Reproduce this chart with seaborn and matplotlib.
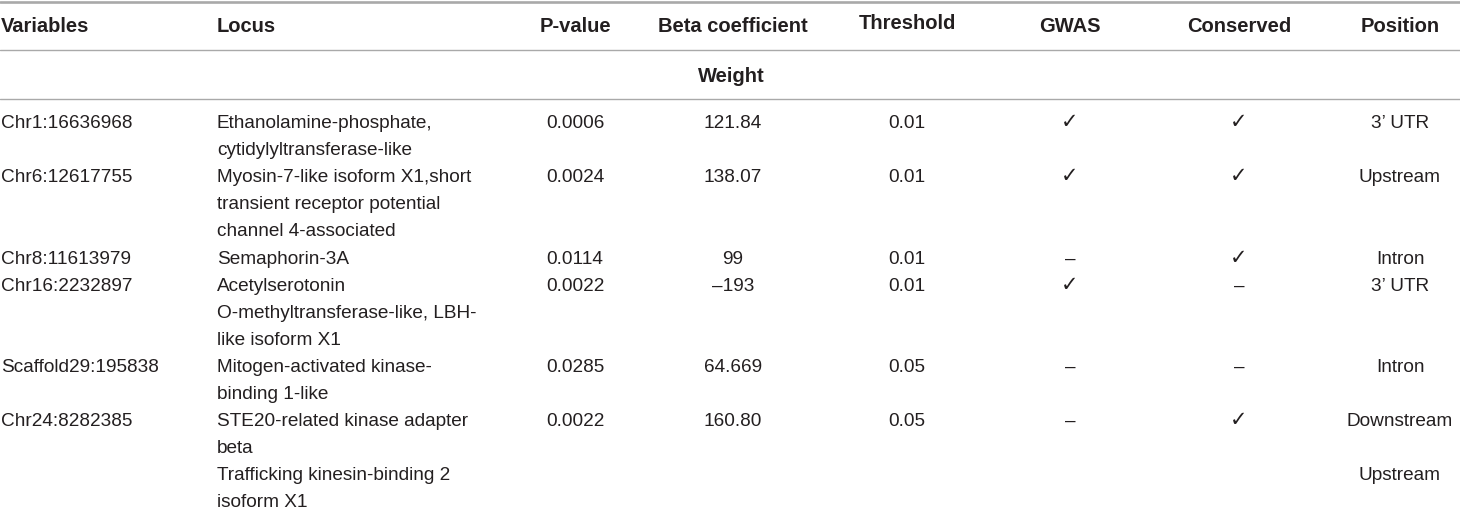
import matplotlib

matplotlib.use("Agg")
import matplotlib.pyplot as plt
import pandas as pd
import seaborn as sns

# Table content
headers = ["Variables", "Locus", "P-value", "Beta coefficient", "Threshold",
           "GWAS", "Conserved", "Position"]
group_label = "Weight"

variables = ["Chr1:16636968", "Chr6:12617755", "Chr8:11613979", "Chr16:2232897",
             "Scaffold29:195838", "Chr24:8282385", ""]
locus = [
    ["Ethanolamine-phosphate,", "cytidylyltransferase-like"],
    ["Myosin-7-like isoform X1,short", "transient receptor potential",
     "channel 4-associated"],
    ["Semaphorin-3A"],
    ["Acetylserotonin", "O-methyltransferase-like, LBH-", "like isoform X1"],
    ["Mitogen-activated kinase-", "binding 1-like"],
    ["STE20-related kinase adapter", "beta"],
    ["Trafficking kinesin-binding 2", "isoform X1"],
]
p_values = ["0.0006", "0.0024", "0.0114", "0.0022", "0.0285", "0.0022", ""]
beta_coef = ["121.84", "138.07", "99", "\u2013193", "64.669", "160.80", ""]
thresholds = ["0.01", "0.01", "0.01", "0.01", "0.05", "0.05", ""]
gwas = ["\u2713", "\u2713", "\u2013", "\u2713", "\u2013", "\u2013", ""]
conserved = ["\u2713", "\u2713", "\u2713", "\u2013", "\u2013", "\u2713", ""]
position = ["3\u2019 UTR", "Upstream", "Intron", "3\u2019 UTR", "Intron",
            "Downstream", "Upstream"]

df = pd.DataFrame({
    "Variables": variables, "Locus": locus, "P-value": p_values,
    "Beta coefficient": beta_coef, "Threshold": thresholds,
    "GWAS": gwas, "Conserved": conserved, "Position": position,
})

# layout (pixel coordinates of a 1460x512 canvas)
col_x = {"Variables": 1, "Locus": 217, "P-value": 575, "Beta coefficient": 733,
         "Threshold": 907, "GWAS": 1070, "Conserved": 1239, "Position": 1400}
col_ha = {"Variables": "left", "Locus": "left"}
first_base = 128
line_step = 27.1

sns.set_theme(style="white")
plt.rcParams["font.family"] = ["Liberation Sans", "DejaVu Sans"]
text_color = "#231f20"
rule_color = "#a9a9a9"
fs = 13.65
fs_bold = 14.5

fig = plt.figure(figsize=(14.6, 5.12), dpi=100)
ax = fig.add_axes([0, 0, 1, 1])
ax.set_xlim(0, 1460)
ax.set_ylim(512, 0)
ax.axis("off")

# rules
ax.axhline(1.5, color=rule_color, lw=1.9)
ax.axhline(50, color=rule_color, lw=1.0)
ax.axhline(99, color=rule_color, lw=1.0)

# header
for h in headers:
    base = 29 if h == "Threshold" else 32
    ax.text(col_x[h], base, h, ha=col_ha.get(h, "center"), va="baseline",
            fontsize=fs_bold, fontweight="bold", color=text_color)
ax.text(col_x["Beta coefficient"] - 2, 82, group_label, ha="center", va="baseline",
        fontsize=fs_bold, fontweight="bold", color=text_color)

# body
line_idx = 0
for _, row in df.iterrows():
    base = first_base + line_step * line_idx
    for h in headers:
        if h == "Locus":
            for k, part in enumerate(row[h]):
                ax.text(col_x[h], base + line_step * k, part, ha="left",
                        va="baseline", fontsize=fs, color=text_color)
        elif row[h] == "\u2713":
            ax.text(col_x[h], base, row[h], ha="center", va="baseline",
                    fontsize=15, fontweight="bold", color=text_color)
        elif row[h]:
            ax.text(col_x[h], base, row[h], ha=col_ha.get(h, "center"),
                    va="baseline", fontsize=fs, color=text_color)
    line_idx += len(row["Locus"])

fig.savefig("out.png", dpi=100)
